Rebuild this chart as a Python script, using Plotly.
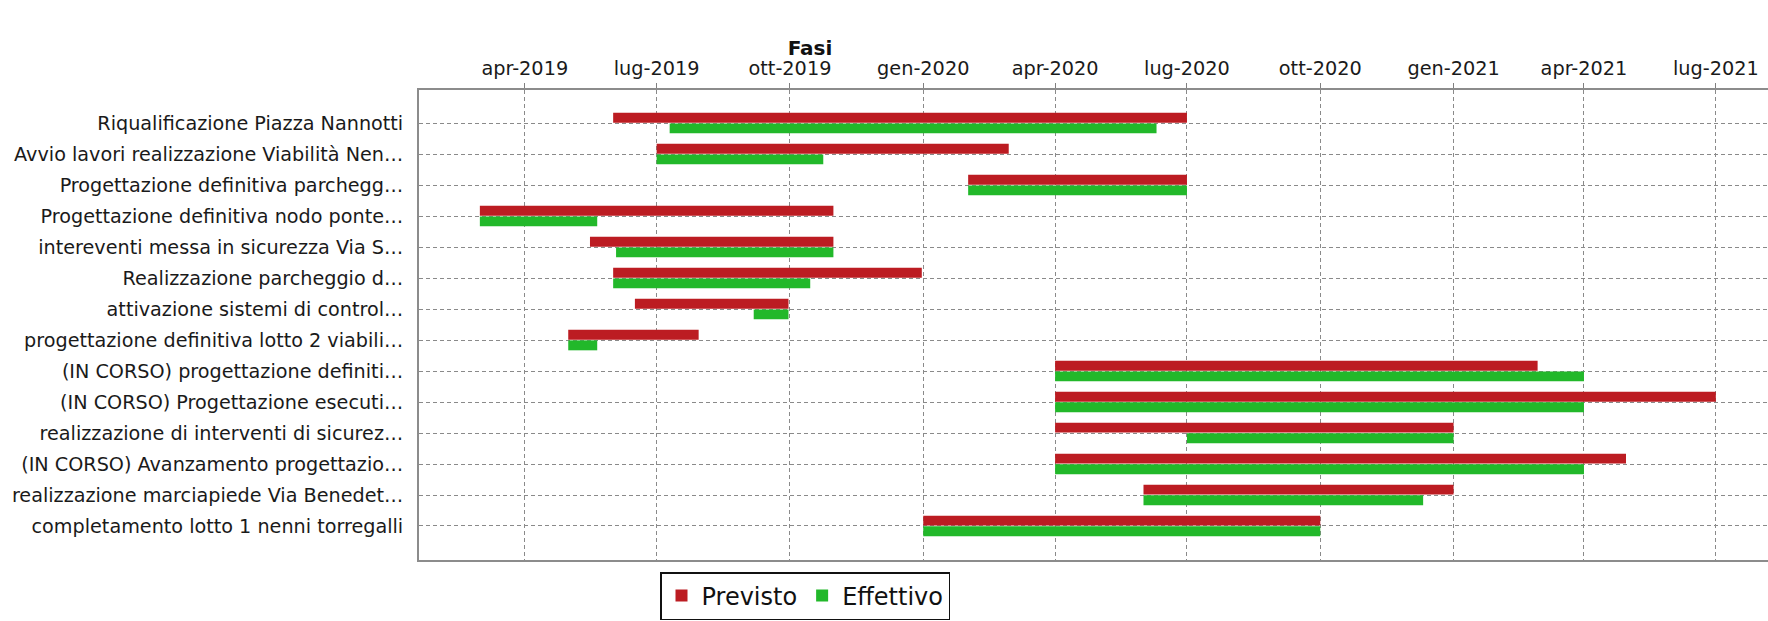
import pandas as pd
import plotly.graph_objects as go

# Phases (top to bottom)
fasi = [
    "Riqualificazione Piazza Nannotti",
    "Avvio lavori realizzazione Viabilità Nen…",
    "Progettazione definitiva parchegg…",
    "Progettazione definitiva nodo ponte…",
    "intereventi messa in sicurezza Via S…",
    "Realizzazione parcheggio d…",
    "attivazione sistemi di control…",
    "progettazione definitiva lotto 2 viabili…",
    "(IN CORSO) progettazione definiti…",
    "(IN CORSO) Progettazione esecuti…",
    "realizzazione di interventi di sicurez…",
    "(IN CORSO) Avanzamento progettazio…",
    "realizzazione marciapiede Via Benedet…",
    "completamento lotto 1 nenni torregalli",
]

previsto_inizio = [
    "2019-06-01", "2019-07-01", "2020-02-01", "2019-03-01", "2019-05-16",
    "2019-06-01", "2019-06-16", "2019-05-01", "2020-04-01", "2020-04-01",
    "2020-04-01", "2020-04-01", "2020-06-01", "2020-01-01",
]
previsto_fine = [
    "2020-07-01", "2020-02-29", "2020-07-01", "2019-10-31", "2019-10-31",
    "2019-12-31", "2019-09-30", "2019-07-30", "2021-02-28", "2021-07-01",
    "2021-01-01", "2021-04-30", "2021-01-01", "2020-10-01",
]
effettivo_inizio = [
    "2019-07-10", "2019-07-01", "2020-02-01", "2019-03-01", "2019-06-03",
    "2019-06-01", "2019-09-06", "2019-05-01", "2020-04-01", "2020-04-01",
    "2020-07-01", "2020-04-01", "2020-06-01", "2020-01-01",
]
effettivo_fine = [
    "2020-06-10", "2019-10-24", "2020-07-01", "2019-05-21", "2019-10-31",
    "2019-10-15", "2019-09-30", "2019-05-21", "2021-04-01", "2021-04-01",
    "2021-01-01", "2021-04-01", "2020-12-11", "2020-10-01",
]

tick_date = [
    "2019-04-01", "2019-07-01", "2019-10-01", "2020-01-01", "2020-04-01",
    "2020-07-01", "2020-10-01", "2021-01-01", "2021-04-01", "2021-07-01",
]
tick_label = [
    "apr-2019", "lug-2019", "ott-2019", "gen-2020", "apr-2020",
    "lug-2020", "ott-2020", "gen-2021", "apr-2021", "lug-2021",
]

ROSSO = "#BC1C22"
VERDE = "#22B82A"


def durata_ms(inizio, fine):
    a = pd.to_datetime(pd.Series(inizio))
    b = pd.to_datetime(pd.Series(fine))
    return ((b - a).dt.total_seconds() * 1000).tolist()


fig = go.Figure()
fig.add_trace(go.Bar(
    name="Previsto", orientation="h", y=fasi,
    base=previsto_inizio, x=durata_ms(previsto_inizio, previsto_fine),
    marker=dict(color=ROSSO, line=dict(width=0)),
))
fig.add_trace(go.Bar(
    name="Effettivo", orientation="h", y=fasi,
    base=effettivo_inizio, x=durata_ms(effettivo_inizio, effettivo_fine),
    marker=dict(color=VERDE, line=dict(width=0)),
))

FONT = "DejaVu Sans"
fig.update_layout(
    width=1768, height=621,
    margin=dict(l=419, r=0, t=90, b=61),
    paper_bgcolor="white", plot_bgcolor="white",
    barmode="group", bargap=0.31, bargroupgap=0.07,
    font=dict(family=FONT, size=19, color="#1a1a1a"),
    title=dict(text="<b>Fasi</b>", x=810 / 1768, xref="container", xanchor="center",
               y=1 - 48 / 621, yref="container", yanchor="middle",
               font=dict(family=FONT, size=20, color="#111")),
    legend=dict(orientation="h", xref="container", yref="container",
                x=660 / 1768, xanchor="left", y=1 - 572 / 621, yanchor="top",
                bordercolor="#111", borderwidth=1.5, bgcolor="white",
                font=dict(family=FONT, size=24, color="#111"),
                traceorder="normal", itemsizing="constant"),
    showlegend=True,
)

fig.update_xaxes(
    type="date", side="top",
    range=["2019-01-18", "2021-08-06"],
    tickvals=tick_date, ticktext=tick_label,
    ticks="outside", ticklen=5, tickcolor="#808080", tickwidth=1,
    showgrid=True, gridcolor="#8a8a8a", gridwidth=1, griddash="4px,3px",
    showline=True, linecolor="#8c8c8c", linewidth=2, mirror=True,
    zeroline=False,
    tickfont=dict(family=FONT, size=19.3, color="#1a1a1a"),
)
fig.update_yaxes(
    type="category", categoryorder="array", categoryarray=fasi,
    range=[len(fasi) - 1 + 1.097, -1.065],
    showgrid=True, gridcolor="#8a8a8a", gridwidth=1, griddash="4px,3px",
    showline=True, linecolor="#8c8c8c", linewidth=2,
    ticks="", ticklabelstandoff=10,
    zeroline=False,
    tickfont=dict(family=FONT, size=19.2, color="#1a1a1a"),
)

fig.write_html("out.html")
